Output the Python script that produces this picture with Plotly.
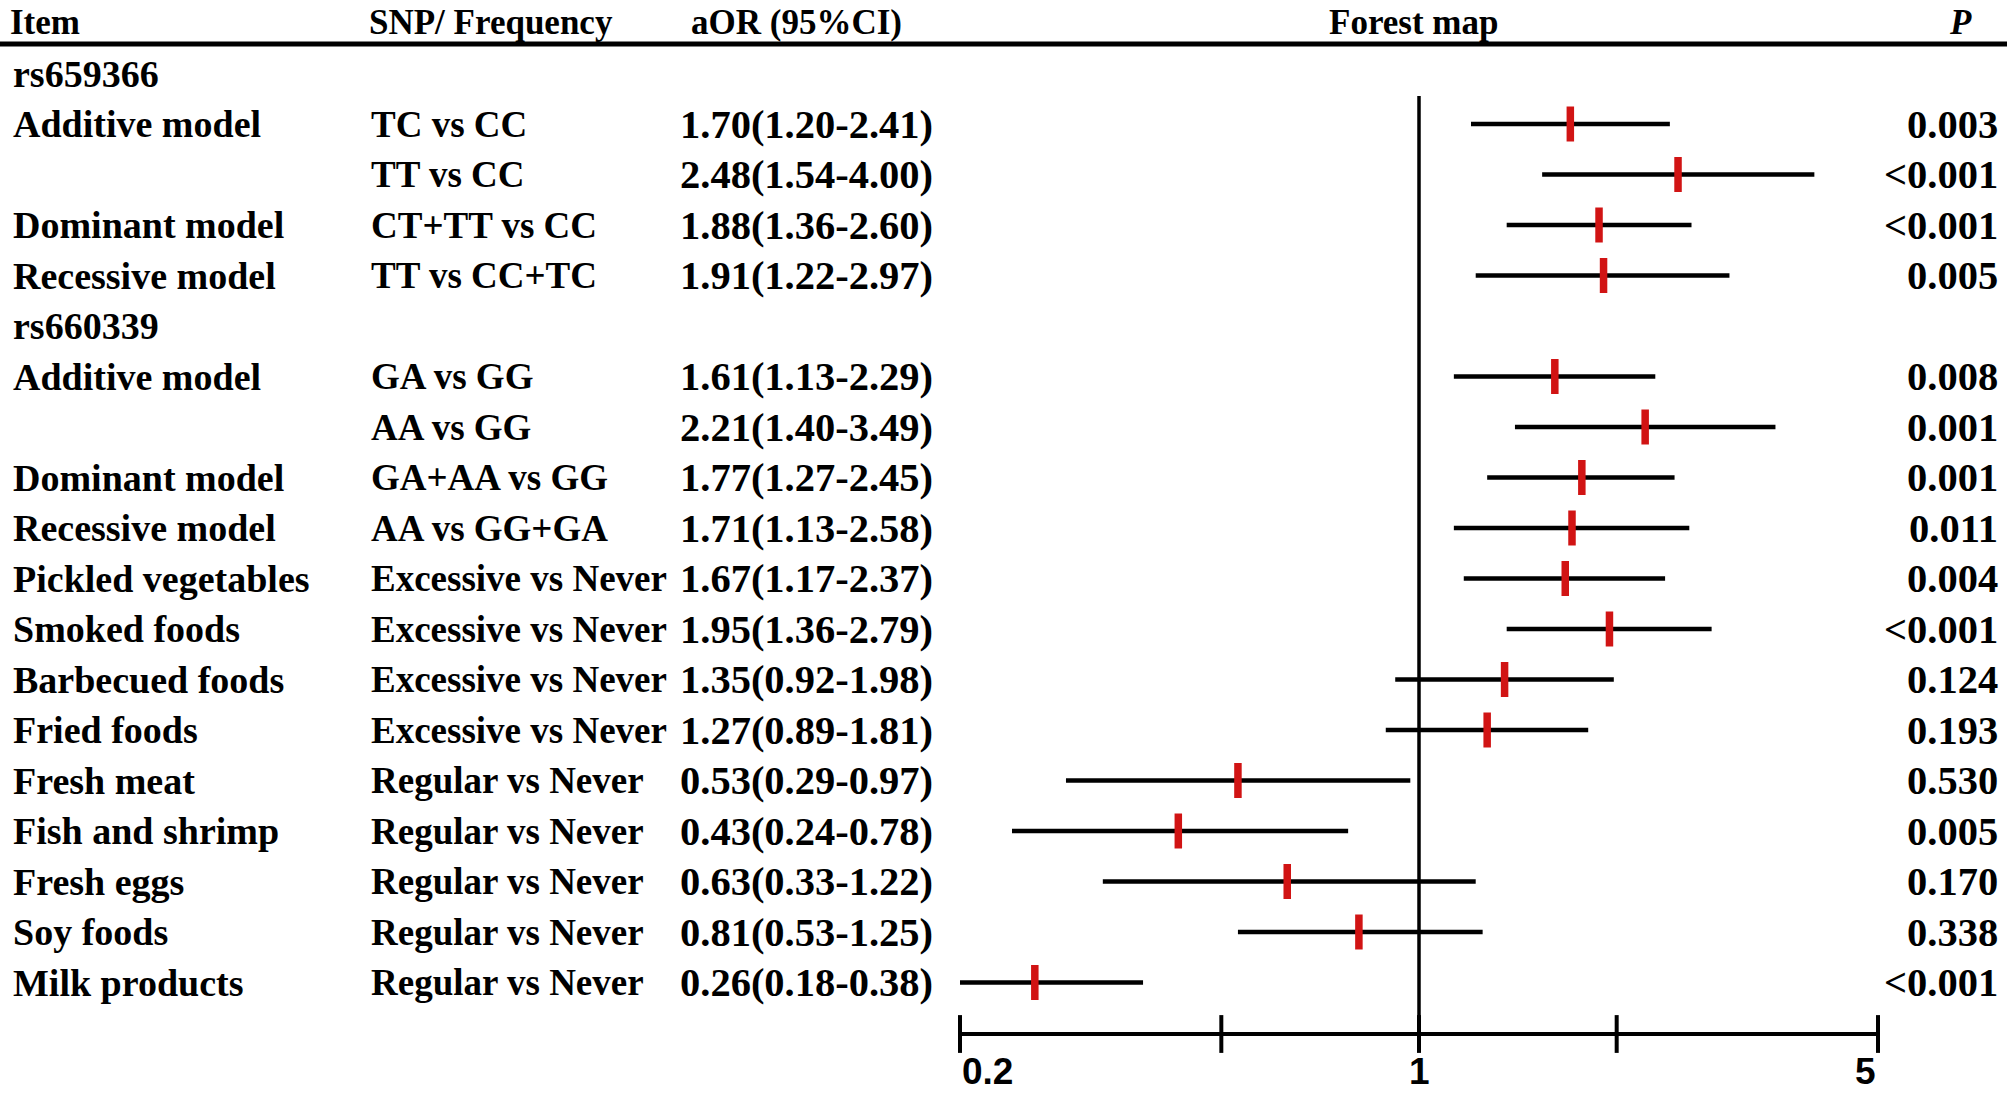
import numpy as np
import plotly.graph_objects as go

# ---------------- data ----------------
items = ["rs659366", "Additive model", "", "Dominant model", "Recessive model",
         "rs660339", "Additive model", "", "Dominant model", "Recessive model",
         "Pickled vegetables", "Smoked foods", "Barbecued foods", "Fried foods",
         "Fresh meat", "Fish and shrimp", "Fresh eggs", "Soy foods", "Milk products"]
comparisons = ["", "TC vs CC", "TT vs CC", "CT+TT vs CC", "TT vs CC+TC",
               "", "GA vs GG", "AA vs GG", "GA+AA vs GG", "AA vs GG+GA",
               "Excessive vs Never", "Excessive vs Never", "Excessive vs Never", "Excessive vs Never",
               "Regular vs Never", "Regular vs Never", "Regular vs Never", "Regular vs Never",
               "Regular vs Never"]
aor = [None, 1.70, 2.48, 1.88, 1.91, None, 1.61, 2.21, 1.77, 1.71,
       1.67, 1.95, 1.35, 1.27, 0.53, 0.43, 0.63, 0.81, 0.26]
ci_low = [None, 1.20, 1.54, 1.36, 1.22, None, 1.13, 1.40, 1.27, 1.13,
          1.17, 1.36, 0.92, 0.89, 0.29, 0.24, 0.33, 0.53, 0.18]
ci_high = [None, 2.41, 4.00, 2.60, 2.97, None, 2.29, 3.49, 2.45, 2.58,
           2.37, 2.79, 1.98, 1.81, 0.97, 0.78, 1.22, 1.25, 0.38]
p_values = ["", "0.003", "<0.001", "<0.001", "0.005", "", "0.008", "0.001", "0.001", "0.011",
            "0.004", "<0.001", "0.124", "0.193", "0.530", "0.005", "0.170", "0.338", "<0.001"]
headers = ["Item", "SNP/ Frequency", "aOR (95%CI)", "Forest map", "P"]
tick_values = [0.2, 0.5, 1, 2, 5]
tick_labels = ["0.2", "", "1", "", "5"]
reference_value = 1

# ---------------- layout constants ----------------
W, H = 2007, 1096
ROW0_PX, ROW_PX = 73.5, 50.5          # pixel centre of row 0 and row pitch
def row_of(px):
    return (px - ROW0_PX) / ROW_PX

AXIS_ROW = row_of(1034)
VLINE_TOP = row_of(96)
HEADER_ROW = row_of(22)
RULE_ROW = row_of(44)
TICKLAB_ROW = row_of(1071)

X_ITEM, X_SNP, X_AOR, X_P = 11, 369, 678, 2000
X_HDR = [8, 367, 689, 1413, 1960]

serif = "Liberation Serif"
sans = "Liberation Sans"
ROW_FONT = dict(family=serif, size=38, color="black", weight="bold")
CMP_FONT = dict(family=serif, size=37, color="black", weight="bold")
NUM_FONT = dict(family=serif, size=40.5, color="black", weight="bold")
HDR_FONT = dict(family=serif, size=35, color="black", weight="bold")

rows = list(range(len(items)))

fig = go.Figure()

# confidence interval lines
cx, cy = [], []
for k, lo, hi in zip(rows, ci_low, ci_high):
    if lo is None:
        continue
    cx += [lo, hi, None]
    cy += [k, k, None]
fig.add_trace(go.Scatter(x=cx, y=cy, mode="lines",
                         line=dict(color="black", width=4.5), hoverinfo="skip"))

# reference line at OR = 1
fig.add_trace(go.Scatter(x=[reference_value, reference_value], y=[VLINE_TOP, AXIS_ROW],
                         mode="lines", line=dict(color="black", width=3.5), hoverinfo="skip"))

# point estimates (red bars)
px_, py_ = [], []
for k, a in zip(rows, aor):
    if a is None:
        continue
    px_.append(a)
    py_.append(k)
fig.add_trace(go.Scatter(x=px_, y=py_, mode="markers",
                         marker=dict(symbol="line-ns", size=25,
                                     line=dict(color="#d11414", width=7.5)),
                         hoverinfo="skip"))

# bottom axis line and ticks
fig.add_trace(go.Scatter(x=[tick_values[0], tick_values[-1]], y=[AXIS_ROW, AXIS_ROW],
                         mode="lines", line=dict(color="black", width=4), hoverinfo="skip",
                         cliponaxis=False))
fig.add_trace(go.Scatter(x=tick_values, y=[AXIS_ROW] * len(tick_values), mode="markers",
                         marker=dict(symbol="line-ns", size=27,
                                     line=dict(color="black", width=4)),
                         cliponaxis=False, hoverinfo="skip"))

annotations = []
# tick labels
for i, (v, lab) in enumerate(zip(tick_values, tick_labels)):
    if not lab:
        continue
    anchor = "left" if i == 0 else ("right" if i == len(tick_values) - 1 else "center")
    annotations.append(dict(x=np.log10(v), y=TICKLAB_ROW, xref="x", yref="y", text=lab,
                            showarrow=False, xanchor=anchor, yanchor="middle",
                            font=dict(family=sans, size=37, color="black", weight="bold")))

# headers
for i, (h, xh) in enumerate(zip(headers, X_HDR)):
    txt = f"<i>{h}</i>" if h == "P" else h
    anchor = "left" if i < 3 else "center"
    annotations.append(dict(x=xh / W, y=HEADER_ROW, xref="paper", yref="y", text=txt,
                            showarrow=False, xanchor=anchor, yanchor="middle", font=HDR_FONT))

# table text
for k in rows:
    if items[k]:
        annotations.append(dict(x=X_ITEM / W, y=k, xref="paper", yref="y", text=items[k],
                                showarrow=False, xanchor="left", yanchor="middle", font=ROW_FONT))
    if comparisons[k]:
        annotations.append(dict(x=X_SNP / W, y=k, xref="paper", yref="y", text=comparisons[k],
                                showarrow=False, xanchor="left", yanchor="middle", font=CMP_FONT))
    if aor[k] is not None:
        t = f"{aor[k]:.2f}({ci_low[k]:.2f}-{ci_high[k]:.2f})"
        annotations.append(dict(x=X_AOR / W, y=k, xref="paper", yref="y", text=t,
                                showarrow=False, xanchor="left", yanchor="middle", font=NUM_FONT))
    if p_values[k]:
        annotations.append(dict(x=X_P / W, y=k, xref="paper", yref="y", text=p_values[k],
                                showarrow=False, xanchor="right", yanchor="middle", font=NUM_FONT))

shapes = [dict(type="line", xref="paper", yref="y", x0=0, x1=1, y0=RULE_ROW, y1=RULE_ROW,
               line=dict(color="black", width=5))]

fig.update_layout(
    width=W, height=H,
    margin=dict(l=0, r=0, t=0, b=0),
    paper_bgcolor="white", plot_bgcolor="white",
    showlegend=False,
    hovermode=False,
    xaxis=dict(type="log", range=[np.log10(tick_values[0]), np.log10(tick_values[-1])],
               domain=[960 / W, 1878 / W], visible=False, showgrid=False, zeroline=False),
    yaxis=dict(range=[row_of(H), row_of(0)], domain=[0, 1], visible=False,
               showgrid=False, zeroline=False),
    annotations=annotations,
    shapes=shapes,
)

fig.write_html("out.html",
               config={"displayModeBar": False, "staticPlot": True},
               post_script="document.body.style.margin='0';"
                           "document.documentElement.style.overflow='hidden';")
